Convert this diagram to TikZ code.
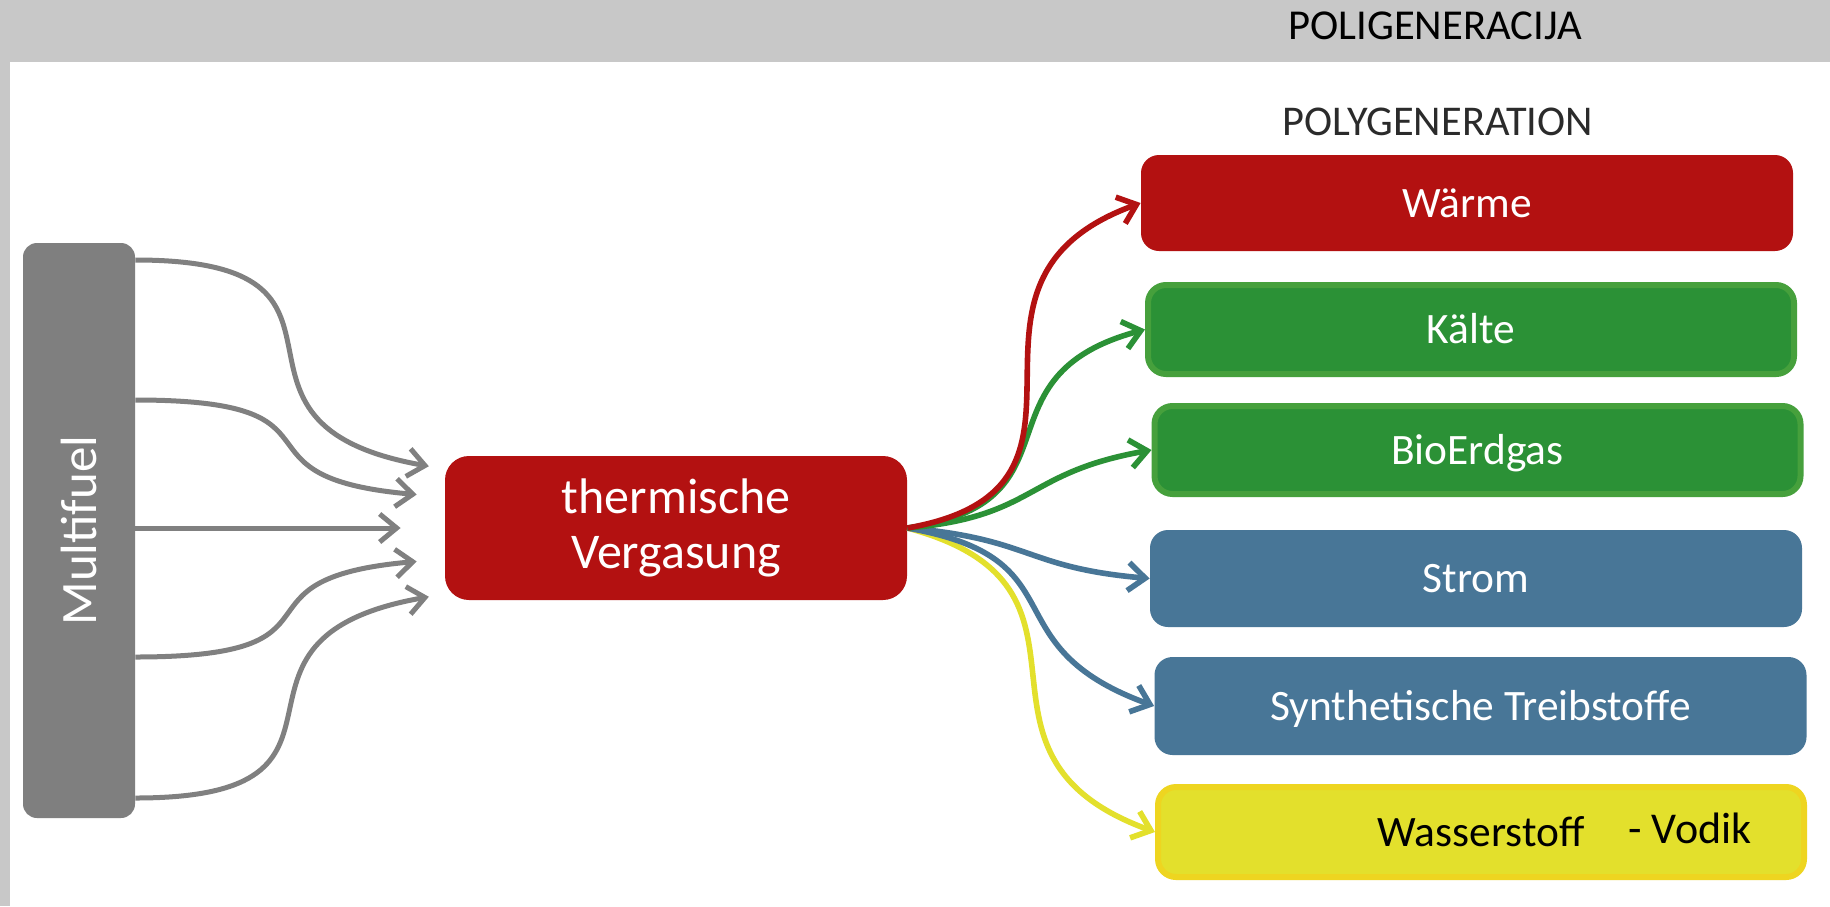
\documentclass[tikz,border=0pt]{standalone}
\usepackage{fontspec}
\setmainfont{Carlito}
\usepackage{graphicx}
\usepackage{tikz}
\usetikzlibrary{arrows.meta,positioning}
\definecolor{HeadGray}{HTML}{C8C8C8}
\definecolor{FuelGray}{HTML}{7F7F7F}
\definecolor{LineGray}{HTML}{808080}
\definecolor{HeatRed}{HTML}{B31111}
\definecolor{ColdGreen}{HTML}{2B9136}
\definecolor{ColdGreenEdge}{HTML}{46A03C}
\definecolor{PowerBlue}{HTML}{487697}
\definecolor{HydroYellow}{HTML}{E3E02C}
\definecolor{HydroEdge}{HTML}{EED520}
\definecolor{TitleBlack}{HTML}{2B2B2B}
\tikzset{
    % Base box style
    basebox/.style={
        draw=none,
        inner sep=0pt,
        align=center,
        text=white,
        font=\fontsize{21.7}{25}\selectfont
    },
    % Output box style
    outbox/.style={
        basebox,
        rounded corners=9pt,
        minimum width=326pt,
        text height=14pt,
        text depth=0pt
    },
    % Output box with a lighter edge
    edgebox/.style={
        outbox,
        line width=3pt,
        minimum width=323pt
    },
    % Fuel input style
    fuelbox/.style={
        basebox,
        fill=FuelGray,
        rounded corners=7pt,
        minimum width=56pt,
        minimum height=287.5pt,
        font=\fontsize{25.5}{29}\selectfont
    },
    % Gasification style
    gasbox/.style={
        basebox,
        fill=HeatRed,
        rounded corners=12pt,
        minimum width=231pt,
        minimum height=72pt,
        font=\fontsize{25}{27.5}\selectfont
    },
    % Arrow styles (curved)
    fuelarrow/.style={
        -{Straight Barb[length=8.5pt,width=14pt]},
        line width=2.5pt,
        draw=LineGray
    },
    outarrow/.style={
        -{Straight Barb[length=8.5pt,width=14pt]},
        line width=2.8pt
    }
}
\begin{document}
\begin{tikzpicture}[x=0.5pt, y=-0.5pt]
        % Page frame
        \useasboundingbox (0,0) rectangle (1830,906);
        \fill[white] (0,0) rectangle (1830,906);
        \fill[HeadGray] (0,0) rectangle (1830,62);
        \fill[HeadGray] (0,0) rectangle (10,906);

        % Titles
        \node[font=\fontsize{21.3}{25}\selectfont] (titlehr) at (1435,26) {POLIGENERACIJA};
        \node[font=\fontsize{21.2}{24}\selectfont, text=TitleBlack] (titleen) at (1438,122) {POLYGENERATION};

        % Input and process
        \node[fuelbox] (multi) at (79,530.5) {\rotatebox{90}{Multifuel}};
        \node[gasbox] (verg) at (676,528) {thermische\\Vergasung};

        % Products
        \node[outbox, fill=HeatRed, minimum height=48pt] (waerme) at (1467,203) {Wärme};
        \node[edgebox, fill=ColdGreen, draw=ColdGreenEdge, minimum height=44.5pt] (kaelte) at (1471,329.5) {Kälte};
        \node[edgebox, fill=ColdGreen, draw=ColdGreenEdge, minimum height=44pt] (bio) at (1477.5,450) {BioErdgas};
        \node[outbox, fill=PowerBlue, minimum height=48.5pt] (strom) at (1476,578.5) {Strom};
        \node[outbox, fill=PowerBlue, minimum height=49pt] (synth) at (1480.5,706) {Synthetische Treibstoffe};
        \node[edgebox, fill=HydroYellow, draw=HydroEdge, text=black, minimum height=45pt] (wasser) at (1481,832) {Wasserstoff};
        \node[font=\fontsize{22}{26}\selectfont] (vodik) at (1690,828) {- Vodik};

        % Fuel lines
        \draw[fuelarrow, shorten >=8pt] (multi.east |- 0,260) to[out=0, in=170, looseness=1.8] (verg.west |- 0,469);
        \draw[fuelarrow, shorten >=14pt] (multi.east |- 0,400) to[out=0, in=175, looseness=1.8] (verg.west |- 0,497);
        \draw[fuelarrow, shorten >=22pt] (multi.east |- verg.west) -- (verg.west);
        \draw[fuelarrow, shorten >=14pt] (multi.east |- 0,657) to[out=0, in=185, looseness=1.8] (verg.west |- 0,559);
        \draw[fuelarrow, shorten >=8pt] (multi.east |- 0,798) to[out=0, in=190, looseness=1.8] (verg.west |- 0,594);

        % Product lines
        \draw[outarrow, draw=HydroYellow] (verg.east) to[out=-15, in=160, looseness=1.5] (wasser.west);
        \draw[outarrow, draw=PowerBlue] (verg.east) to[out=-10, in=160, looseness=1.5] (synth.west);
        \draw[outarrow, draw=PowerBlue] (verg.east) to[out=-5, in=175, looseness=1.3] (strom.west);
        \draw[outarrow, draw=ColdGreen] (verg.east) to[out=5, in=190, looseness=1.3] (bio.west);
        \draw[outarrow, draw=ColdGreen] (verg.east) to[out=8, in=195, looseness=1.5] (kaelte.west);
        \draw[outarrow, draw=HeatRed] (verg.east) to[out=10, in=200, looseness=1.5] (waerme.west);
    \end{tikzpicture}
\end{document}
